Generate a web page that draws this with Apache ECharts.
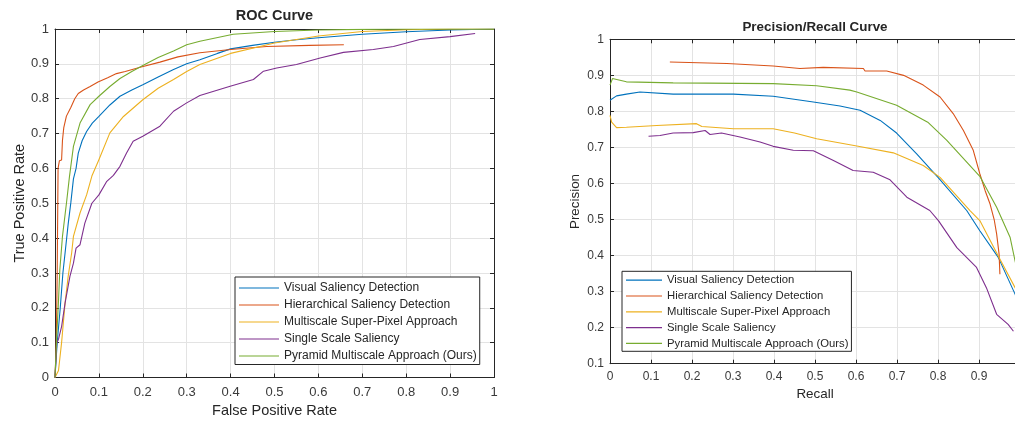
<!DOCTYPE html>
<html>
<head>
<meta charset="utf-8">
<script src="https://cdn.jsdelivr.net/npm/echarts@6/dist/echarts.min.js"></script>
<style>
  html, body { margin: 0; padding: 0; background: #fff; }
  #chart { width: 1015px; height: 424px; }
</style>
</head>
<body>
<div id="chart"></div>
<script>
// series names (legend order)
const seriesNames = [
  'Visual Saliency Detection',
  'Hierarchical Saliency Detection',
  'Multiscale Super-Pixel Approach',
  'Single Scale Saliency',
  'Pyramid Multiscale Approach (Ours)'
]
const seriesColors = ['#0072BD', '#D95319', '#EDB120', '#7E2F8E', '#77AC30']

// ROC curves: [false positive rate, true positive rate]
const rocVisual = [[0,0],[0.003,0.06],[0.005,0.1],[0.012,0.2],[0.018,0.3],[0.023,0.358],[0.03,0.44],[0.036,0.501],[0.042,0.57],[0.048,0.6],[0.053,0.644],[0.062,0.68],[0.072,0.706],[0.085,0.73],[0.1,0.749],[0.125,0.782],[0.148,0.807],[0.175,0.825],[0.2,0.84],[0.235,0.862],[0.27,0.884],[0.3,0.9],[0.33,0.912],[0.37,0.93],[0.4,0.943],[0.45,0.953],[0.5,0.962],[0.55,0.969],[0.6,0.975],[0.7,0.985],[0.8,0.992],[0.9,0.997],[1,1]]
const rocHier = [[0,0],[0.003,0.1],[0.005,0.3],[0.007,0.6],[0.01,0.622],[0.015,0.624],[0.017,0.68],[0.02,0.717],[0.026,0.75],[0.036,0.775],[0.045,0.8],[0.053,0.815],[0.065,0.825],[0.08,0.835],[0.098,0.848],[0.12,0.86],[0.14,0.872],[0.16,0.878],[0.194,0.89],[0.239,0.905],[0.28,0.92],[0.33,0.932],[0.4,0.941],[0.482,0.95],[0.58,0.953],[0.658,0.955]]
const rocMulti = [[0,0],[0.008,0.02],[0.015,0.1],[0.023,0.214],[0.03,0.29],[0.038,0.358],[0.042,0.405],[0.057,0.472],[0.072,0.524],[0.084,0.578],[0.1,0.625],[0.125,0.702],[0.156,0.749],[0.2,0.797],[0.235,0.83],[0.27,0.855],[0.3,0.878],[0.33,0.898],[0.4,0.93],[0.467,0.95],[0.5,0.96],[0.6,0.98],[0.7,0.993],[0.8,0.998],[0.9,1],[1,1]]
const rocSingle = [[0,0],[0.004,0.099],[0.008,0.11],[0.015,0.146],[0.023,0.214],[0.034,0.29],[0.042,0.328],[0.048,0.371],[0.057,0.381],[0.068,0.443],[0.084,0.5],[0.1,0.524],[0.118,0.563],[0.133,0.58],[0.148,0.606],[0.163,0.644],[0.178,0.678],[0.2,0.692],[0.239,0.721],[0.27,0.764],[0.3,0.788],[0.33,0.809],[0.399,0.836],[0.452,0.855],[0.475,0.879],[0.505,0.888],[0.55,0.898],[0.604,0.917],[0.657,0.933],[0.725,0.941],[0.771,0.95],[0.831,0.97],[0.9,0.978],[0.957,0.987]]
const rocPyramid = [[0,0],[0.004,0.12],[0.008,0.22],[0.011,0.309],[0.017,0.405],[0.027,0.51],[0.033,0.577],[0.042,0.663],[0.057,0.73],[0.08,0.783],[0.1,0.807],[0.125,0.835],[0.148,0.858],[0.175,0.878],[0.2,0.895],[0.235,0.918],[0.27,0.937],[0.3,0.955],[0.33,0.965],[0.406,0.985],[0.5,0.993],[0.6,0.997],[0.7,0.999],[0.8,1],[1,1]]

// precision / recall curves: [recall, precision]
const prVisual = [[0,0.831],[0.016,0.843],[0.04,0.848],[0.073,0.854],[0.154,0.848],[0.301,0.848],[0.398,0.842],[0.496,0.826],[0.561,0.815],[0.61,0.803],[0.659,0.775],[0.699,0.74],[0.748,0.682],[0.8,0.617],[0.87,0.525],[0.902,0.469],[0.947,0.395],[0.988,0.293],[1,0.26]]
const prHier = [[0.146,0.937],[0.285,0.933],[0.398,0.926],[0.463,0.919],[0.52,0.922],[0.618,0.919],[0.622,0.912],[0.675,0.912],[0.716,0.9],[0.764,0.873],[0.805,0.84],[0.837,0.794],[0.862,0.747],[0.886,0.692],[0.902,0.627],[0.915,0.58],[0.927,0.543],[0.937,0.5],[0.943,0.46],[0.949,0.404],[0.951,0.348]]
const prMulti = [[0,0.789],[0.004,0.77],[0.016,0.755],[0.04,0.756],[0.114,0.761],[0.211,0.766],[0.224,0.758],[0.301,0.752],[0.398,0.752],[0.45,0.74],[0.504,0.724],[0.602,0.704],[0.691,0.685],[0.764,0.65],[0.805,0.617],[0.878,0.525],[0.902,0.497],[0.947,0.399],[0.988,0.311],[1,0.28]]
const prSingle = [[0.094,0.731],[0.122,0.733],[0.154,0.74],[0.203,0.741],[0.232,0.747],[0.244,0.736],[0.272,0.74],[0.317,0.729],[0.366,0.715],[0.398,0.703],[0.447,0.692],[0.496,0.691],[0.545,0.664],[0.593,0.636],[0.642,0.631],[0.683,0.61],[0.724,0.562],[0.78,0.525],[0.801,0.497],[0.846,0.422],[0.894,0.367],[0.918,0.311],[0.943,0.237],[0.971,0.209],[0.984,0.19]]
const prPyramid = [[0,0.873],[0.006,0.891],[0.04,0.882],[0.154,0.879],[0.398,0.877],[0.504,0.871],[0.585,0.859],[0.602,0.854],[0.699,0.817],[0.775,0.77],[0.821,0.72],[0.902,0.62],[0.943,0.534],[0.976,0.45],[0.988,0.385],[1,0.33]]

const rocData = [rocVisual, rocHier, rocMulti, rocSingle, rocPyramid]
const prData = [prVisual, prHier, prMulti, prSingle, prPyramid]

const FONT = 'Liberation Sans, Arial, sans-serif'
const INK = '#262626'
const GRID_LINE = '#e3e3e3'

function valueAxis(opts) {
  // MATLAB-ish axis: dark line, inward ticks, light grid
  const showLabel = opts.label !== false
  return {
    type: 'value',
    gridIndex: opts.grid,
    position: opts.position,
    min: opts.min,
    max: opts.max,
    interval: 0.1,
    name: opts.name || '',
    nameLocation: 'middle',
    nameGap: opts.nameGap || 0,
    nameTextStyle: {color: INK, fontFamily: FONT, fontSize: opts.nameSize},
    axisLine: {show: true, onZero: false, lineStyle: {color: INK, width: 1}},
    axisTick: {show: true, inside: true, length: 4, lineStyle: {color: INK}},
    axisLabel: {
      show: showLabel, margin: opts.margin, color: '#3a3a3a',
      fontFamily: FONT, fontSize: opts.labelSize
    },
    splitLine: {show: showLabel, lineStyle: {color: GRID_LINE, width: 1}}
  }
}

function legend(left, top, fontSize, rowH, itemW, padding) {
  return {
    orient: 'vertical',
    left: left,
    top: top,
    data: seriesNames,
    selectedMode: false,
    icon: 'rect',
    itemWidth: itemW,
    itemHeight: 1.2,
    itemGap: 0,
    padding: padding,
    backgroundColor: '#fff',
    borderColor: INK,
    borderWidth: 1,
    borderRadius: 0,
    textStyle: {color: INK, fontFamily: FONT, fontSize: fontSize, lineHeight: rowH}
  }
}

const series = []
seriesNames.forEach((name, i) => {
  series.push({
    name: name, type: 'line', xAxisIndex: 0, yAxisIndex: 0,
    data: rocData[i], symbol: 'none', animation: false,
    lineStyle: {color: seriesColors[i], width: 1.1}, itemStyle: {color: seriesColors[i]}
  })
})
seriesNames.forEach((name, i) => {
  series.push({
    name: name, type: 'line', xAxisIndex: 2, yAxisIndex: 2,
    data: prData[i], symbol: 'none', animation: false,
    lineStyle: {color: seriesColors[i], width: 1.1}, itemStyle: {color: seriesColors[i]}
  })
})

const chart = echarts.init(document.getElementById('chart'))
chart.setOption({
  animation: false,
  backgroundColor: '#fff',
  graphic: [
    {type: 'text', x: 274.5, y: 15.5, style: {text: 'ROC Curve', fill: INK, font: 'bold 14.5px ' + FONT, textAlign: 'center', textVerticalAlign: 'middle'}},
    {type: 'text', x: 815, y: 27, style: {text: 'Precision/Recall Curve', fill: INK, font: 'bold 13.4px ' + FONT, textAlign: 'center', textVerticalAlign: 'middle'}}
  ],
  grid: [
    {left: 55, top: 29, width: 439, height: 348.5, containLabel: false, outerBoundsMode: 'none'},
    {left: 610, top: 39.3, width: 410, height: 324.4, containLabel: false, outerBoundsMode: 'none'}
  ],
  xAxis: [
    valueAxis({grid: 0, position: 'bottom', min: 0, max: 1, name: 'False Positive Rate', nameGap: 25, nameSize: 14.5, margin: 8, labelSize: 13}),
    valueAxis({grid: 0, position: 'top', min: 0, max: 1, label: false}),
    valueAxis({grid: 1, position: 'bottom', min: 0, max: 1, name: 'Recall', nameGap: 23, nameSize: 13.4, margin: 7, labelSize: 12}),
    valueAxis({grid: 1, position: 'top', min: 0, max: 1, label: false})
  ],
  yAxis: [
    valueAxis({grid: 0, position: 'left', min: 0, max: 1, name: 'True Positive Rate', nameGap: 28, nameSize: 14.5, margin: 6, labelSize: 13}),
    valueAxis({grid: 0, position: 'right', min: 0, max: 1, label: false}),
    valueAxis({grid: 1, position: 'left', min: 0.1, max: 1, name: 'Precision', nameGap: 28, nameSize: 13.4, margin: 6, labelSize: 12}),
    valueAxis({grid: 1, position: 'right', min: 0.1, max: 1, label: false})
  ],
  legend: [
    legend(235, 277, 12, 17, 40, [2.5, 3, 0, 4]),
    legend(622, 271.3, 11.3, 15.8, 36, [1, 3, 0, 4])
  ],
  series: series
})
</script>
</body>
</html>
